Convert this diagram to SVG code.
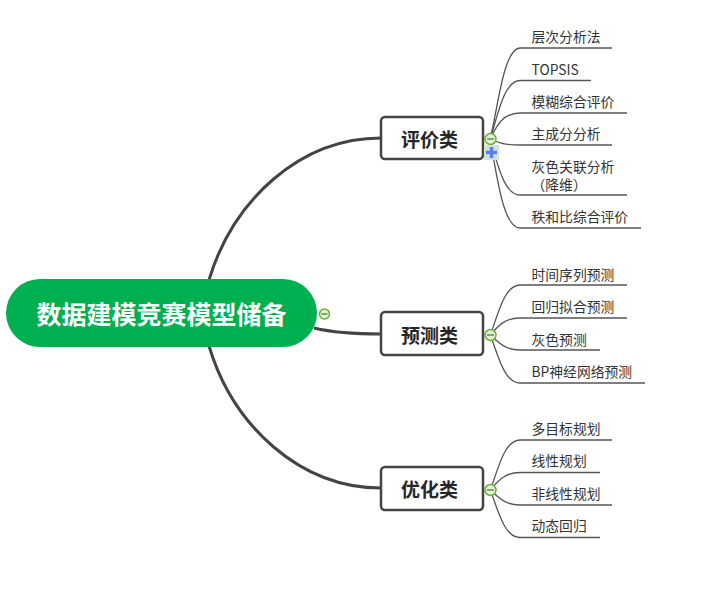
<svg xmlns="http://www.w3.org/2000/svg" width="720" height="607" viewBox="0 0 720 607">
<style>
text{font-family:"Noto Sans CJK SC","Liberation Sans",sans-serif}
.leaf{font-size:13.8px;fill:#333}
.topic{font-size:19px;font-weight:700;fill:#262626;text-anchor:middle}
.main{fill:none;stroke:#444;stroke-width:3}
.sub{fill:none;stroke:#555;stroke-width:1.3}
.box{fill:#fff;stroke:#444;stroke-width:2.5}
.col{fill:#e4f2d8;stroke:#6aae3a;stroke-width:1.5}
.dash{stroke:#5f8f45;stroke-width:1.5}
</style>
<rect width="720" height="607" fill="#fff"/>
<g id="connectors">
<path class="main" d="M209 280C233 200 300 138 381 138"/>
<path class="main" d="M314 328C335 333 355 334 381 334"/>
<path class="main" d="M209 346C233 426 300 488 381 488"/>
<path class="sub" d="M490 139C497 115 503 48 520 48H612"/>
<path class="sub" d="M490 139C497 120 503 80.500 520 80.500H591"/>
<path class="sub" d="M490 139C497 125 503 113 520 113H627"/>
<path class="sub" d="M490 139C497 142 503 145 520 145H612"/>
<path class="sub" d="M490 139C497 160 503 195 520 195H627"/>
<path class="sub" d="M490 139C497 175 503 228 520 228H641"/>
<path class="sub" d="M490 335C497 320 503 285 520 285H627"/>
<path class="sub" d="M490 335C497 328 503 318 520 318H627"/>
<path class="sub" d="M490 335C497 340 503 350 520 350H600"/>
<path class="sub" d="M490 335C497 350 503 383 520 383H645"/>
<path class="sub" d="M490 490C497 475 503 440 520 440H612"/>
<path class="sub" d="M490 490C497 483 503 472.500 520 472.500H600"/>
<path class="sub" d="M490 490C497 495 503 505 520 505H612"/>
<path class="sub" d="M490 490C497 505 503 537.500 520 537.500H600"/>
</g>
<g id="root">
<rect x="6" y="279" width="311" height="68" rx="34" fill="#00b050"/>
<text x="161.500" y="324" font-size="25" font-weight="700" fill="#fff" text-anchor="middle">数据建模竞赛模型储备</text>
<circle class="col" cx="324.500" cy="314" r="5"/><path class="dash" d="M321.500 314H327.500"/>
</g>
<g id="node-eval">
<rect class="box" x="381" y="117" width="102" height="42" rx="4"/>
<text class="topic" x="429.500" y="147">评价类</text>
<circle class="col" cx="490.500" cy="139" r="5.500"/><path class="dash" d="M487 139H494"/>
<rect x="484" y="145" width="15" height="15" fill="#d3e3d3"/>
<path d="M491.500 147V158M486 152.500H497" stroke="#5b7ff0" stroke-width="3.500"/>
</g>
<g id="node-pred">
<rect class="box" x="381" y="312" width="102" height="43" rx="4"/>
<text class="topic" x="429.500" y="343">预测类</text>
<circle class="col" cx="490.500" cy="335" r="5.500"/><path class="dash" d="M487 335H494"/>
</g>
<g id="node-opt">
<rect class="box" x="381" y="467" width="102" height="43" rx="4"/>
<text class="topic" x="429.500" y="497">优化类</text>
<circle class="col" cx="490.500" cy="490" r="5.500"/><path class="dash" d="M487 490H494"/>
</g>
<g id="leaves">
<g id="l1"><text class="leaf" x="531.500" y="42">层次分析法</text></g>
<g id="l2"><text class="leaf" x="531.500" y="75">TOPSIS</text></g>
<g id="l3"><text class="leaf" x="531.500" y="107">模糊综合评价</text></g>
<g id="l4"><text class="leaf" x="531.500" y="139">主成分分析</text></g>
<g id="l5"><text class="leaf" x="531.500" y="172">灰色关联分析<tspan x="531.500" dy="18">（降维）</tspan></text></g>
<g id="l6"><text class="leaf" x="531.500" y="222">秩和比综合评价</text></g>
<g id="l7"><text class="leaf" x="531.500" y="280">时间序列预测</text></g>
<g id="l8"><text class="leaf" x="531.500" y="312">回归拟合预测</text></g>
<g id="l9"><text class="leaf" x="531.500" y="345">灰色预测</text></g>
<g id="l10"><text class="leaf" x="531.500" y="377">BP神经网络预测</text></g>
<g id="l11"><text class="leaf" x="531.500" y="434">多目标规划</text></g>
<g id="l12"><text class="leaf" x="531.500" y="466">线性规划</text></g>
<g id="l13"><text class="leaf" x="531.500" y="499">非线性规划</text></g>
<g id="l14"><text class="leaf" x="531.500" y="531">动态回归</text></g>
</g>
</svg>
